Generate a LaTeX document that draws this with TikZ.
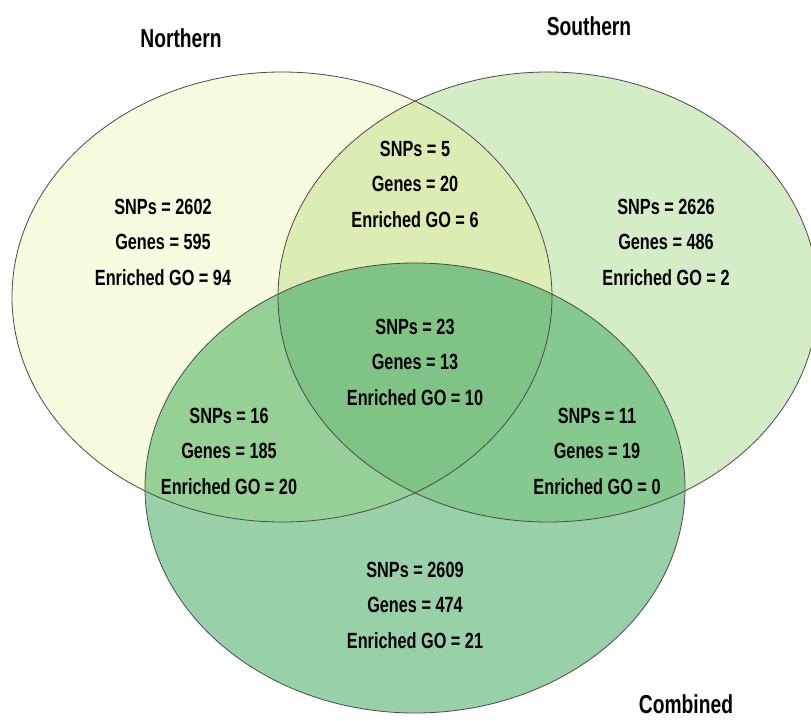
\documentclass[tikz,border=0pt]{standalone}
\usepackage{fontspec}
\setmainfont{Liberation Sans}[FakeStretch=0.74]
\definecolor{cN}{HTML}{F8FBDF}
\definecolor{cS}{HTML}{D4EDC6}
\definecolor{cC}{HTML}{98D1A8}
\definecolor{cNS}{HTML}{DCEDB4}
\definecolor{cNC}{HTML}{95D195}
\definecolor{cSC}{HTML}{86C98E}
\definecolor{cNSC}{HTML}{80C485}
\definecolor{edge}{HTML}{4A4A4A}
\tikzset{
  cnt/.style={align=center, font=\bfseries\fontsize{22}{35.5}\selectfont, text=black, inner sep=0pt},
  setlabel/.style={font=\bfseries\fontsize{26}{30}\selectfont, text=black, inner sep=0pt},
  outline/.style={draw=edge, line width=0.8pt}
}
\begin{document}
\begin{tikzpicture}[x=1pt,y=-1pt]
\useasboundingbox (0,0) rectangle (811,720);
\fill[white] (0,0) rectangle (811,720);
\def\ellN{(282,297) ellipse [x radius=270pt, y radius=225pt]}
\def\ellS{(548,297) ellipse [x radius=270pt, y radius=225pt]}
\def\ellC{(415,488) ellipse [x radius=270pt, y radius=225pt]}
\fill[cN] \ellN;
\fill[cS] \ellS;
\fill[cC] \ellC;
\begin{scope}\clip \ellN; \fill[cNS] \ellS;\end{scope}
\begin{scope}\clip \ellN; \fill[cNC] \ellC;\end{scope}
\begin{scope}\clip \ellS; \fill[cSC] \ellC;\end{scope}
\begin{scope}\clip \ellN; \clip \ellS; \fill[cNSC] \ellC;\end{scope}
\draw[outline] \ellN;
\draw[outline] \ellS;
\draw[outline] \ellC;
\node[setlabel] (lN) at (181,38) {Northern};
\node[setlabel] (lS) at (589,26) {Southern};
\node[setlabel] (lC) at (686,704) {Combined};
\node[cnt] (tN) at (163,242) {SNPs = 2602\\Genes = 595\\Enriched GO = 94};
\node[cnt] (tS) at (666,242) {SNPs = 2626\\Genes = 486\\Enriched GO = 2};
\node[cnt] (tNS) at (415,184) {SNPs = 5\\Genes = 20\\Enriched GO = 6};
\node[cnt] (tNSC) at (415,362) {SNPs = 23\\Genes = 13\\Enriched GO = 10};
\node[cnt] (tNC) at (229,451) {SNPs = 16\\Genes = 185\\Enriched GO = 20};
\node[cnt] (tSC) at (597,451) {SNPs = 11\\Genes = 19\\Enriched GO = 0};
\node[cnt] (tC) at (415,605) {SNPs = 2609\\Genes = 474\\Enriched GO = 21};
\end{tikzpicture}
\end{document}
